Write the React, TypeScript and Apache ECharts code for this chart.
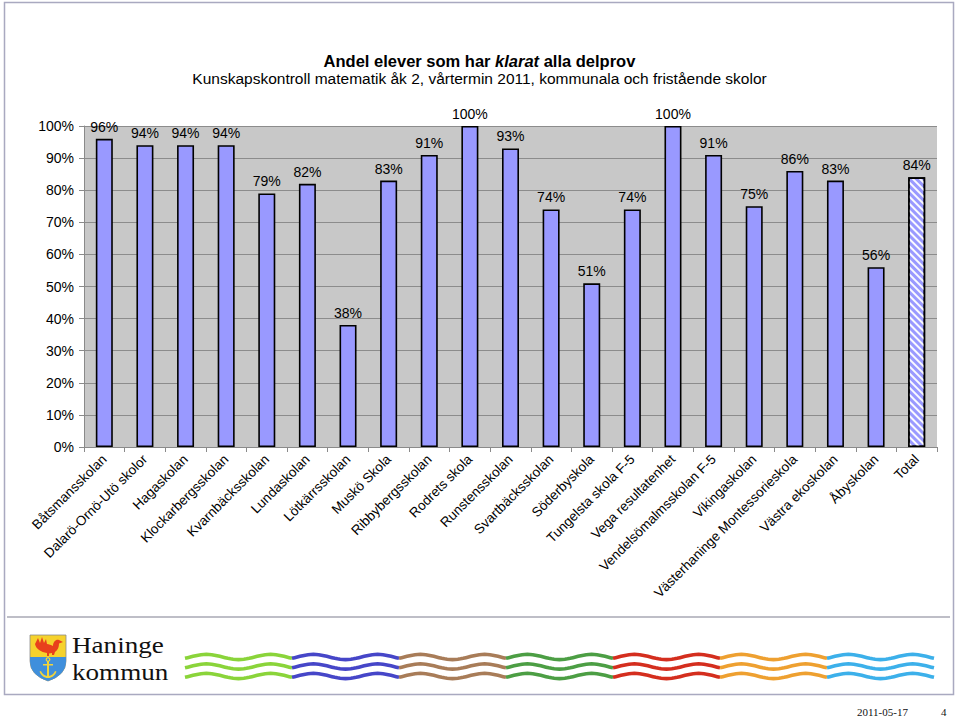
import React, { useEffect, useRef } from "react";
import * as echarts from "echarts";

const schools = [
  "Båtsmansskolan",
  "Dalarö-Ornö-Utö skolor",
  "Hagaskolan",
  "Klockarbergsskolan",
  "Kvarnbäcksskolan",
  "Lundaskolan",
  "Lötkärrsskolan",
  "Muskö Skola",
  "Ribbybergsskolan",
  "Rodrets skola",
  "Runstensskolan",
  "Svartbäcksskolan",
  "Söderbyskola",
  "Tungelsta skola F-5",
  "Vega resultatenhet",
  "Vendelsömalmsskolan F-5",
  "Vikingaskolan",
  "Västerhaninge Montessorieskola",
  "Västra ekoskolan",
  "Åbyskolan",
  "Total",
];

const shareValues = [
  0.96, 0.94, 0.94, 0.94, 0.79, 0.82, 0.38, 0.83, 0.91, 1.0, 0.93, 0.74, 0.51,
  0.74, 1.0, 0.91, 0.75, 0.86, 0.83, 0.56, 0.84,
];

const waveColors = [
  "#8ad43a",
  "#4646c8",
  "#a87c58",
  "#4c9e44",
  "#d42e1e",
  "#eea030",
  "#3cb0ea",
];

const titleLine1 = ["Andel elever som har ", "klarat", " alla delprov"];
const titleLine2 =
  "Kunskapskontroll matematik åk 2, vårtermin 2011, kommunala och fristående skolor";

const SANS = "'Liberation Sans', Arial, sans-serif";
const SERIF = "'Liberation Serif', 'DejaVu Serif', serif";

let shapesRegistered = false;
function registerShapes() {
  if (shapesRegistered) return;
  shapesRegistered = true;
  const g: any = echarts.graphic;
  g.registerShape(
    "shieldAll",
    g.extendPath("M0,0 L36,0 L36,26 Q36,40 18,46 Q0,40 0,26 Z", {})
  );
  g.registerShape(
    "shieldBottom",
    g.extendPath("M0,22 L36,22 L36,26 Q36,40 18,46 Q0,40 0,26 Z", {})
  );
  g.registerShape(
    "rooster",
    g.extendPath(
      "M5,9 L8,3 L10,8 L12,2 L14,8 L16,4 L17,9 C19,9 21,10 23,11 C23,7 26,4 29,5 L33,7 L29,8.5 C29,12 28,15 25,17 L24,20 L22,20 L22,18 L19,18.5 L19,21 L17,21 L17,18 C11,17 6,14 5,9 Z",
      {}
    )
  );
  g.registerShape(
    "anchor",
    g.extendPath(
      "M17,26 L19,26 L19,29 L23,29 L23,30.5 L19,30.5 L19,41 C22,40.5 24,38.5 25,36 L26.5,36.5 C25,40.5 22,43 18,43 C14,43 11,40.5 9.5,36.5 L11,36 C12,38.5 14,40.5 17,41 L17,30.5 L13,30.5 L13,29 L17,29 Z",
      {}
    )
  );
}

function wavePoints(x0: number, x1: number, base: number, amp: number) {
  const pts: number[][] = [];
  const w = x1 - x0;
  for (let i = 0; i <= 40; i++) {
    const t = i / 40;
    const y = base - amp * Math.cos((2 * Math.PI * (t - 0.2)) / 0.6);
    pts.push([x0 + t * w, y]);
  }
  return pts;
}

export default function App() {
  const ref = useRef<HTMLDivElement>(null);

  useEffect(() => {
    document.body.style.margin = "0";
    registerShapes();
    const chart = echarts.init(ref.current!, undefined, { renderer: "svg" });

    const waves: any[] = [];
    const segW = 107;
    const x0 = 185;
    const rows = [657, 666.5, 676];
    waveColors.forEach((c, i) => {
      rows.forEach((y) => {
        waves.push({
          type: "polyline",
          silent: true,
          shape: { points: wavePoints(x0 + i * segW, x0 + (i + 1) * segW, y, 2.6) },
          style: { stroke: c, lineWidth: 3.6, fill: null },
        });
      });
    });

    const barData = shareValues.map((v, i) => {
      if (schools[i] === "Total") {
        return {
          value: v,
          itemStyle: {
            color: "#9999ff",
            decal: {
              symbol: "rect",
              symbolSize: 1,
              color: "rgba(255,255,255,0.95)",
              dashArrayX: [1, 0],
              dashArrayY: [2, 3],
              rotation: Math.PI / 4,
            },
          },
        };
      }
      return v;
    });

    chart.setOption({
      animation: false,
      backgroundColor: "#ffffff",
      textStyle: { fontFamily: SANS },
      title: {
        left: "center",
        top: 47,
        itemGap: 1,
        text: `{b|${titleLine1[0]}}{bi|${titleLine1[1]}}{b|${titleLine1[2]}}`,
        textStyle: {
          rich: {
            b: { fontWeight: "bold", fontSize: 16.5, color: "#000", fontFamily: SANS },
            bi: {
              fontWeight: "bold",
              fontStyle: "italic",
              fontSize: 16.5,
              color: "#000",
              fontFamily: SANS,
            },
          },
        },
        subtext: titleLine2,
        subtextStyle: { fontSize: 15.5, color: "#000", fontFamily: SANS },
      },
      grid: {
        left: 84,
        right: 22,
        top: 126,
        bottom: 271,
        show: true,
        backgroundColor: "#c8c8c8",
        borderWidth: 0,
      },
      xAxis: {
        type: "category",
        data: schools,
        axisLine: { lineStyle: { color: "#8a8a8a", width: 1 } },
        axisTick: { show: true, length: 5, lineStyle: { color: "#8a8a8a" } },
        axisLabel: {
          interval: 0,
          rotate: 45,
          fontSize: 13.5,
          color: "#000",
          margin: 10,
          fontFamily: SANS,
        },
      },
      yAxis: {
        type: "value",
        min: 0,
        max: 1,
        interval: 0.1,
        axisLine: { show: true, lineStyle: { color: "#8a8a8a", width: 1 } },
        axisTick: { show: true, length: 5, lineStyle: { color: "#8a8a8a" } },
        axisLabel: {
          formatter: (v: number) => `${Math.round(v * 100)}%`,
          fontSize: 14,
          color: "#000",
          margin: 10,
          fontFamily: SANS,
        },
        splitLine: { show: true, lineStyle: { color: "#8c8c8c", width: 1 } },
      },
      series: [
        {
          type: "bar",
          data: barData,
          barWidth: 17,
          itemStyle: { color: "#9999ff", borderColor: "#000", borderWidth: 1.6 },
          label: {
            show: true,
            position: "top",
            distance: 5,
            fontSize: 14,
            color: "#000",
            fontFamily: SANS,
            formatter: (p: any) => `${Math.round(p.value * 100)}%`,
          },
        },
      ],
      graphic: [
        {
          type: "rect",
          silent: true,
          shape: { x: 4.5, y: 2.5, width: 949, height: 692 },
          style: { fill: null, stroke: "#a9a9c0", lineWidth: 1.5 },
        },
        {
          type: "line",
          silent: true,
          shape: { x1: 7, y1: 617, x2: 950, y2: 617 },
          style: { stroke: "#a9a9b4", lineWidth: 1.5 },
        },
        {
          type: "group",
          x: 30,
          y: 635,
          silent: true,
          children: [
            { type: "shieldAll", style: { fill: "#f6d22c", stroke: "#8a8a8a", lineWidth: 0.8 } },
            { type: "shieldBottom", style: { fill: "#3f8fdc" } },
            { type: "rooster", style: { fill: "#e8401c" } },
            { type: "anchor", style: { fill: "#f3d43a" } },
            {
              type: "circle",
              shape: { cx: 18, cy: 24.5, r: 1.8 },
              style: { fill: null, stroke: "#f3d43a", lineWidth: 1.2 },
            },
          ],
        },
        {
          type: "text",
          silent: true,
          x: 72,
          y: 645,
          scaleX: 1.13,
          style: {
            text: "Haninge",
            font: `24px ${SERIF}`,
            verticalAlign: "middle",
            fill: "#111",
          },
        },
        {
          type: "text",
          silent: true,
          x: 72,
          y: 672,
          scaleX: 1.13,
          style: {
            text: "kommun",
            font: `24px ${SERIF}`,
            verticalAlign: "middle",
            fill: "#111",
          },
        },
        ...waves,
        {
          type: "text",
          silent: true,
          x: 857,
          y: 706,
          style: { text: "2011-05-17", font: `11px ${SERIF}`, fill: "#111" },
        },
        {
          type: "text",
          silent: true,
          x: 941,
          y: 706,
          style: { text: "4", font: `11px ${SERIF}`, fill: "#111" },
        },
      ],
    });

    return () => chart.dispose();
  }, []);

  return (
    <div
      ref={ref}
      style={{ position: "absolute", left: 0, top: 0, width: 959, height: 718 }}
    />
  );
}
